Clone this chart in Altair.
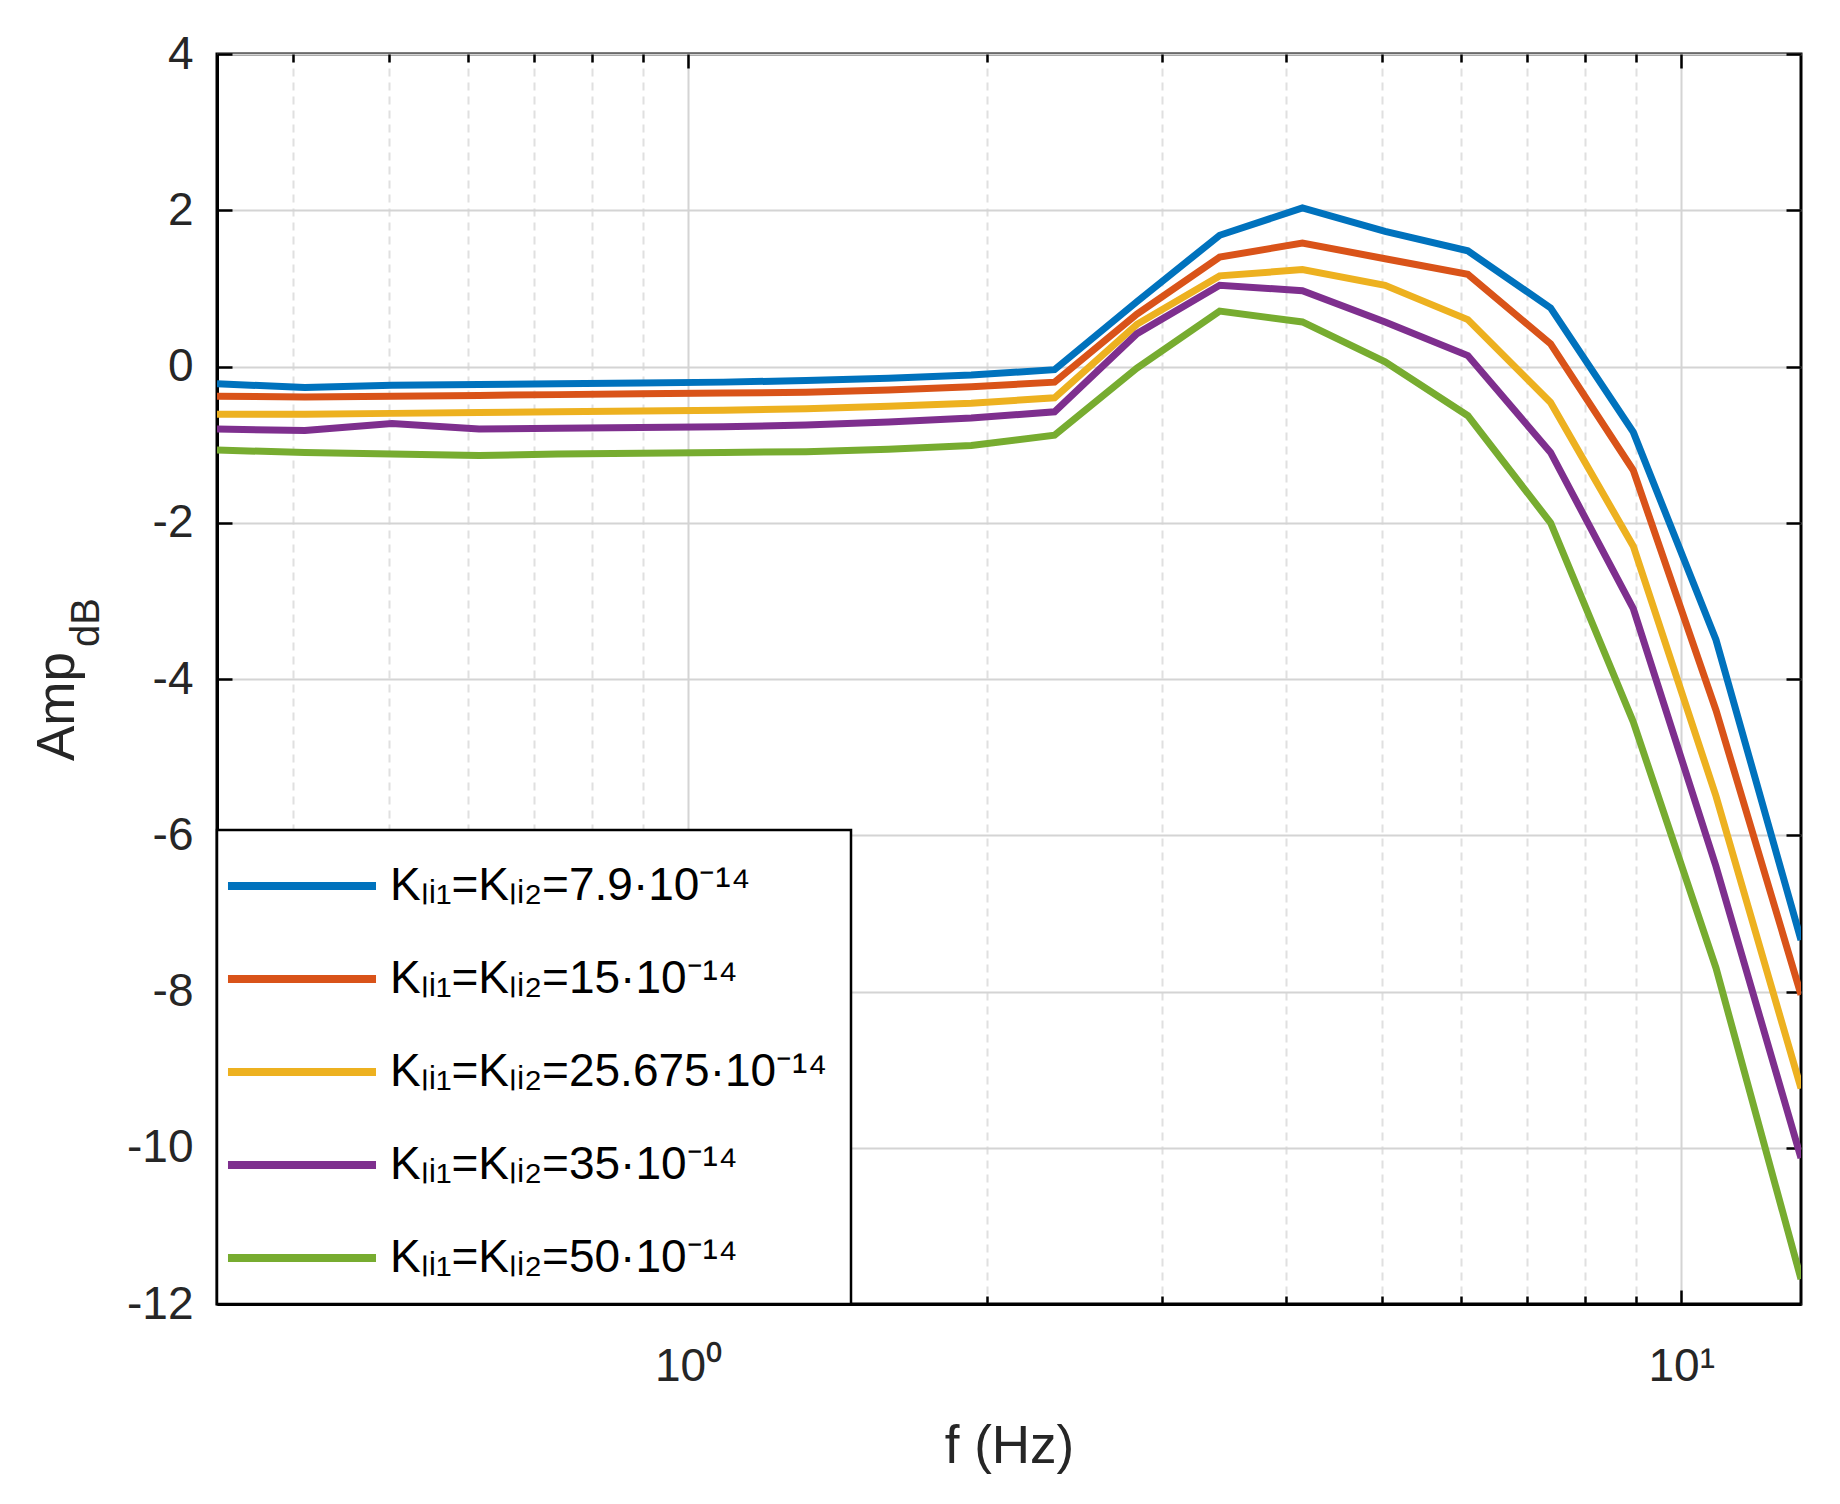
import altair as alt
import pandas as pd

# ---- data ----
freq = [0.3355, 0.4113, 0.5033, 0.6160, 0.7388, 0.8950, 1.0849, 1.3144, 1.5915, 1.9281,
        2.3389, 2.8313, 3.4296, 4.1549, 5.0329, 6.0970, 7.3862, 8.9478, 10.8395, 13.2]

amp_7_9 = [-0.22, -0.27, -0.24, -0.23, -0.22, -0.21, -0.20, -0.18, -0.15, -0.11,
           -0.04, 0.83, 1.68, 2.03, 1.73, 1.48, 0.75, -0.84, -3.50, -7.34]
amp_15 = [-0.38, -0.39, -0.38, -0.37, -0.36, -0.35, -0.34, -0.33, -0.30, -0.26,
          -0.20, 0.67, 1.40, 1.58, 1.38, 1.18, 0.29, -1.33, -4.40, -8.04]
amp_25_675 = [-0.61, -0.61, -0.60, -0.59, -0.58, -0.57, -0.56, -0.54, -0.51, -0.47,
              -0.40, 0.54, 1.16, 1.24, 1.04, 0.60, -0.46, -2.30, -5.50, -9.24]
amp_35 = [-0.80, -0.82, -0.73, -0.80, -0.79, -0.78, -0.77, -0.75, -0.71, -0.66,
          -0.58, 0.42, 1.04, 0.97, 0.57, 0.14, -1.10, -3.10, -6.40, -10.13]
amp_50 = [-1.07, -1.10, -1.12, -1.14, -1.12, -1.11, -1.10, -1.09, -1.06, -1.01,
          -0.88, -0.02, 0.71, 0.57, 0.06, -0.63, -2.00, -4.55, -7.70, -11.68]

labels = [
    "K\u2097\u1d62\u2081=K\u2097\u1d62\u2082=7.9\u00b710\u207b\u00b9\u2074",
    "K\u2097\u1d62\u2081=K\u2097\u1d62\u2082=15\u00b710\u207b\u00b9\u2074",
    "K\u2097\u1d62\u2081=K\u2097\u1d62\u2082=25.675\u00b710\u207b\u00b9\u2074",
    "K\u2097\u1d62\u2081=K\u2097\u1d62\u2082=35\u00b710\u207b\u00b9\u2074",
    "K\u2097\u1d62\u2081=K\u2097\u1d62\u2082=50\u00b710\u207b\u00b9\u2074",
]
colors = ["#0072BD", "#D95319", "#EDB120", "#7E2F8E", "#77AC30"]
series = [amp_7_9, amp_15, amp_25_675, amp_35, amp_50]

x_tick_values = [0.4, 0.5, 0.6, 0.7, 0.8, 0.9, 1, 2, 3, 4, 5, 6, 7, 8, 9, 10]
y_tick_values = [-12, -10, -8, -6, -4, -2, 0, 2, 4]

rows = []
for i, (lab, vals) in enumerate(zip(labels, series)):
    for f, a in zip(freq, vals):
        rows.append({"f": f, "amp": a, "series": lab, "order": i})
df = pd.DataFrame(rows)

# ---- styling ----
W, H = 1584, 1250
FONT = "Liberation Sans"
TXT = "#262626"
major = "datum.value == 1 || datum.value == 10"

xscale = alt.Scale(type="log", domain=[0.3355, 13.2], nice=False)
yscale = alt.Scale(domain=[-12, 4], nice=False)

base = alt.Chart(df)

main = base.mark_line(strokeWidth=7, clip=True).encode(
    x=alt.X("f:Q", scale=xscale, axis=alt.Axis(
        values=x_tick_values,
        labelExpr="datum.value == 1 ? '10\u2070' : (datum.value == 10 ? '10\u00b9' : '')",
        labelFont=FONT, labelFontSize=46, labelColor=TXT, labelPadding=40,
        labelOverlap=False, labelFlush=False,
        ticks=False, domainColor="black", domainWidth=3,
        grid=True,
        gridColor={"condition": {"test": major, "value": "#d4d4d4"}, "value": "#e0e0e0"},
        gridDash={"condition": {"test": major, "value": []}, "value": [8, 6]},
        gridWidth=2,
        title="f (Hz)", titleFont=FONT, titleFontSize=53, titleFontWeight="normal",
        titleColor=TXT, titleY=158, titleBaseline="alphabetic",
    )),
    y=alt.Y("amp:Q", scale=yscale, axis=alt.Axis(
        values=y_tick_values, labelExpr="'' + datum.value",
        labelFont=FONT, labelFontSize=46, labelColor=TXT, labelPadding=24,
        labelFlush=False,
        ticks=False, domainColor="black", domainWidth=3,
        grid=True, gridColor="#d4d4d4", gridWidth=2,
        title="Amp", titleFont=FONT, titleFontSize=53, titleFontWeight="normal",
        titleColor=TXT, titleAngle=270, titleX=-144, titleY=652,
        titleBaseline="alphabetic", titleAlign="center",
    )),
    color=alt.Color("series:N", scale=alt.Scale(domain=labels, range=colors),
                    legend=alt.Legend(
                        title=None, orient="bottom-left", offset=0,
                        fillColor="white", strokeColor="black", padding=23,
                        symbolType="M-1.552,0H3.552", symbolSize=3364,
                        symbolStrokeWidth=8,
                        labelFont=FONT, labelFontSize=46, labelColor="black",
                        labelOffset=84, labelLimit=900, rowPadding=37,
                    )),
    order="order:Q",
)

tick_size_x = {"condition": {"test": major, "value": 14}, "value": 8}

# inward ticks along bottom and left edges
ticks_a = base.mark_point(opacity=0).encode(
    x=alt.X("f:Q", scale=xscale, axis=alt.Axis(
        orient="top", offset=-H, values=x_tick_values, labels=False, domain=False,
        grid=False, ticks=True, tickSize=tick_size_x, tickColor="black", tickWidth=2.5,
        title=None)),
    y=alt.Y("amp:Q", scale=yscale, axis=alt.Axis(
        orient="right", offset=-W, values=y_tick_values, labels=False, domain=False,
        grid=False, ticks=True, tickSize=15, tickColor="black", tickWidth=2.5,
        title=None)),
)

# inward ticks along top and right edges
ticks_b = base.mark_point(opacity=0).encode(
    x=alt.X("f:Q", scale=xscale, axis=alt.Axis(
        orient="bottom", offset=-H, values=x_tick_values, labels=False, domain=False,
        grid=False, ticks=True, tickSize=tick_size_x, tickColor="black", tickWidth=2.5,
        title=None)),
    y=alt.Y("amp:Q", scale=yscale, axis=alt.Axis(
        orient="left", offset=-W, values=y_tick_values, labels=False, domain=False,
        grid=False, ticks=True, tickSize=15, tickColor="black", tickWidth=2.5,
        title=None)),
)

# subscript of the y title
sub_title = base.mark_point(opacity=0).encode(
    x=alt.X("f:Q", scale=xscale, axis=None),
    y=alt.Y("amp:Q", scale=yscale, axis=alt.Axis(
        orient="left", labels=False, ticks=False, domain=False, grid=False,
        title="dB", titleFont=FONT, titleFontSize=40, titleFontWeight="normal",
        titleColor=TXT, titleAngle=270, titleX=-119, titleY=568,
        titleBaseline="alphabetic", titleAlign="center")),
)

chart = alt.layer(main, ticks_a, ticks_b, sub_title).resolve_axis(
    x="independent", y="independent"
).properties(
    width=W, height=H,
    padding={"left": 209, "top": 46, "right": 31, "bottom": 190},
    autosize=alt.AutoSizeParams(type="none"),
    background="white",
).configure_view(
    stroke="black", strokeWidth=3
).configure_legend(
    strokeWidth=2.5
)

chart.save("out.html", embed_options={"renderer": "svg", "actions": False})
